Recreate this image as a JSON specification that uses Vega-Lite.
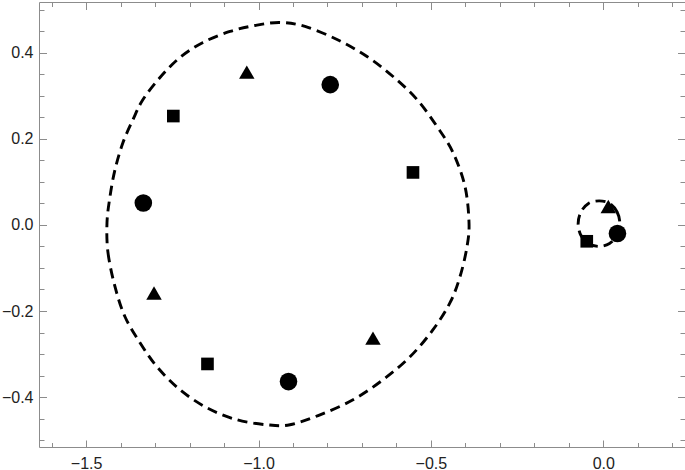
{
  "$schema": "https://vega.github.io/schema/vega-lite/v6.json",
  "width": 646,
  "height": 445,
  "autosize": "none",
  "padding": {"left": 39, "top": 2, "right": 0, "bottom": 23},
  "background": "white",
  "config": {
    "view": {"stroke": null},
    "axis": {"title": null, "grid": false, "domainColor": "#8c8c8c", "tickColor": "#8c8c8c", "tickWidth": 1, "labelFont": "Liberation Sans", "labelFontSize": 16, "labelColor": "#222222", "labelOverlap": false, "labelFlush": false}
  },
  "datasets": {
    "bigCurve": [
      {"i": 0, "x": -1.4394, "y": 0.0053},
      {"i": 1, "x": -1.4365, "y": -0.0644},
      {"i": 2, "x": -1.4162, "y": -0.1435},
      {"i": 3, "x": -1.3872, "y": -0.2133},
      {"i": 4, "x": -1.3437, "y": -0.2737},
      {"i": 5, "x": -1.2944, "y": -0.3295},
      {"i": 6, "x": -1.2277, "y": -0.3830},
      {"i": 7, "x": -1.1494, "y": -0.4249},
      {"i": 8, "x": -1.0624, "y": -0.4528},
      {"i": 9, "x": -0.9754, "y": -0.4644},
      {"i": 10, "x": -0.9087, "y": -0.4644},
      {"i": 11, "x": -0.8216, "y": -0.4412},
      {"i": 12, "x": -0.7259, "y": -0.4063},
      {"i": 13, "x": -0.6389, "y": -0.3598},
      {"i": 14, "x": -0.5606, "y": -0.3063},
      {"i": 15, "x": -0.4939, "y": -0.2435},
      {"i": 16, "x": -0.4446, "y": -0.1807},
      {"i": 17, "x": -0.4156, "y": -0.1202},
      {"i": 18, "x": -0.3953, "y": -0.0505},
      {"i": 19, "x": -0.3895, "y": 0.0053},
      {"i": 20, "x": -0.4011, "y": 0.0891},
      {"i": 21, "x": -0.4359, "y": 0.1681},
      {"i": 22, "x": -0.4823, "y": 0.2286},
      {"i": 23, "x": -0.5403, "y": 0.2914},
      {"i": 24, "x": -0.6099, "y": 0.3449},
      {"i": 25, "x": -0.6853, "y": 0.3914},
      {"i": 26, "x": -0.7723, "y": 0.4309},
      {"i": 27, "x": -0.8651, "y": 0.4612},
      {"i": 28, "x": -0.9377, "y": 0.4705},
      {"i": 29, "x": -1.0102, "y": 0.4635},
      {"i": 30, "x": -1.0827, "y": 0.4495},
      {"i": 31, "x": -1.1610, "y": 0.4240},
      {"i": 32, "x": -1.2277, "y": 0.3891},
      {"i": 33, "x": -1.2857, "y": 0.3426},
      {"i": 34, "x": -1.3350, "y": 0.2914},
      {"i": 35, "x": -1.3640, "y": 0.2449},
      {"i": 36, "x": -1.3930, "y": 0.1914},
      {"i": 37, "x": -1.4162, "y": 0.1286},
      {"i": 38, "x": -1.4307, "y": 0.0658}
    ],
    "smallCurve": [
      {"i": 0, "x": 0.048, "y": 0.003},
      {"i": 1, "x": 0.040, "y": 0.030},
      {"i": 2, "x": 0.018, "y": 0.050},
      {"i": 3, "x": -0.012, "y": 0.056},
      {"i": 4, "x": -0.043, "y": 0.050},
      {"i": 5, "x": -0.065, "y": 0.030},
      {"i": 6, "x": -0.073, "y": 0.003},
      {"i": 7, "x": -0.065, "y": -0.024},
      {"i": 8, "x": -0.043, "y": -0.043},
      {"i": 9, "x": -0.012, "y": -0.050},
      {"i": 10, "x": 0.018, "y": -0.043},
      {"i": 11, "x": 0.040, "y": -0.024}
    ],
    "circles": [
      {"x": -1.334, "y": 0.051},
      {"x": -0.792, "y": 0.326},
      {"x": -0.913, "y": -0.364},
      {"x": 0.041, "y": -0.020}
    ],
    "squares": [
      {"x": -1.247, "y": 0.253},
      {"x": -0.552, "y": 0.122},
      {"x": -1.148, "y": -0.323},
      {"x": -0.048, "y": -0.038}
    ],
    "triangles": [
      {"x": -1.034, "y": 0.355},
      {"x": -1.303, "y": -0.158},
      {"x": -0.668, "y": -0.263},
      {"x": 0.0145, "y": 0.043}
    ]
  },
  "layer": [
    {
      "data": {"name": "bigCurve"},
      "mark": {"type": "line", "interpolate": "cardinal-closed", "color": "black", "strokeWidth": 2.9, "strokeDash": [10, 6]},
      "encoding": {
        "x": {
          "field": "x", "type": "quantitative",
          "scale": {"domain": [-1.6366, 0.2369], "nice": false, "zero": false},
          "axis": {"orient": "bottom", "values": [-1.5, -1.0, -0.5, 0.0], "format": ".1f", "tickSize": -7, "labelPadding": 15}
        },
        "y": {
          "field": "y", "type": "quantitative",
          "scale": {"domain": [-0.516, 0.518], "nice": false, "zero": false},
          "axis": {"orient": "left", "values": [-0.4, -0.2, 0.0, 0.2, 0.4], "format": ".1f", "tickSize": -7.5, "labelPadding": 13.5}
        },
        "order": {"field": "i", "type": "quantitative"}
      }
    },
    {
      "data": {"name": "smallCurve"},
      "mark": {"type": "line", "interpolate": "cardinal-closed", "color": "black", "strokeWidth": 2.9, "strokeDash": [10, 6]},
      "encoding": {
        "x": {
          "field": "x", "type": "quantitative",
          "scale": {"domain": [-1.6366, 0.2369], "nice": false, "zero": false},
          "axis": {"orient": "bottom", "labels": false, "domain": false, "tickSize": -4.5,
            "values": [-1.6, -1.4, -1.3, -1.2, -1.1, -0.9, -0.8, -0.7, -0.6, -0.4, -0.3, -0.2, -0.1, 0.1, 0.2]}
        },
        "y": {
          "field": "y", "type": "quantitative",
          "scale": {"domain": [-0.516, 0.518], "nice": false, "zero": false},
          "axis": {"orient": "left", "labels": false, "domain": false, "tickSize": -5,
            "values": [-0.5, -0.45, -0.35, -0.3, -0.25, -0.15, -0.1, -0.05, 0.05, 0.1, 0.15, 0.25, 0.3, 0.35, 0.45, 0.5]}
        },
        "order": {"field": "i", "type": "quantitative"}
      }
    },
    {
      "data": {"name": "circles"},
      "mark": {"type": "point", "shape": "circle", "filled": true, "opacity": 1, "color": "black", "size": 310},
      "encoding": {
        "x": {
          "field": "x", "type": "quantitative",
          "scale": {"domain": [-1.6366, 0.2369], "nice": false, "zero": false},
          "axis": {"orient": "top", "labels": false, "values": [-1.5, -1.0, -0.5, 0.0], "tickSize": -7.5}
        },
        "y": {
          "field": "y", "type": "quantitative",
          "scale": {"domain": [-0.516, 0.518], "nice": false, "zero": false},
          "axis": {"orient": "right", "labels": false, "values": [-0.4, -0.2, 0.0, 0.2, 0.4], "tickSize": -7.5}
        }
      }
    },
    {
      "data": {"name": "squares"},
      "mark": {"type": "point", "shape": "square", "filled": true, "opacity": 1, "color": "black", "size": 160},
      "encoding": {
        "x": {
          "field": "x", "type": "quantitative",
          "scale": {"domain": [-1.6366, 0.2369], "nice": false, "zero": false},
          "axis": {"orient": "top", "labels": false, "domain": false, "tickSize": -4.5,
            "values": [-1.6, -1.4, -1.3, -1.2, -1.1, -0.9, -0.8, -0.7, -0.6, -0.4, -0.3, -0.2, -0.1, 0.1, 0.2]}
        },
        "y": {
          "field": "y", "type": "quantitative",
          "scale": {"domain": [-0.516, 0.518], "nice": false, "zero": false},
          "axis": {"orient": "right", "labels": false, "domain": false, "tickSize": -5,
            "values": [-0.5, -0.45, -0.35, -0.3, -0.25, -0.15, -0.1, -0.05, 0.05, 0.1, 0.15, 0.25, 0.3, 0.35, 0.45, 0.5]}
        }
      }
    },
    {
      "data": {"name": "triangles"},
      "mark": {"type": "point", "shape": "triangle-up", "filled": true, "opacity": 1, "color": "black", "size": 240},
      "encoding": {
        "x": {"field": "x", "type": "quantitative", "scale": {"domain": [-1.6366, 0.2369], "nice": false, "zero": false}, "axis": null},
        "y": {"field": "y", "type": "quantitative", "scale": {"domain": [-0.516, 0.518], "nice": false, "zero": false}, "axis": null}
      }
    }
  ],
  "resolve": {"axis": {"x": "independent", "y": "independent"}}
}
